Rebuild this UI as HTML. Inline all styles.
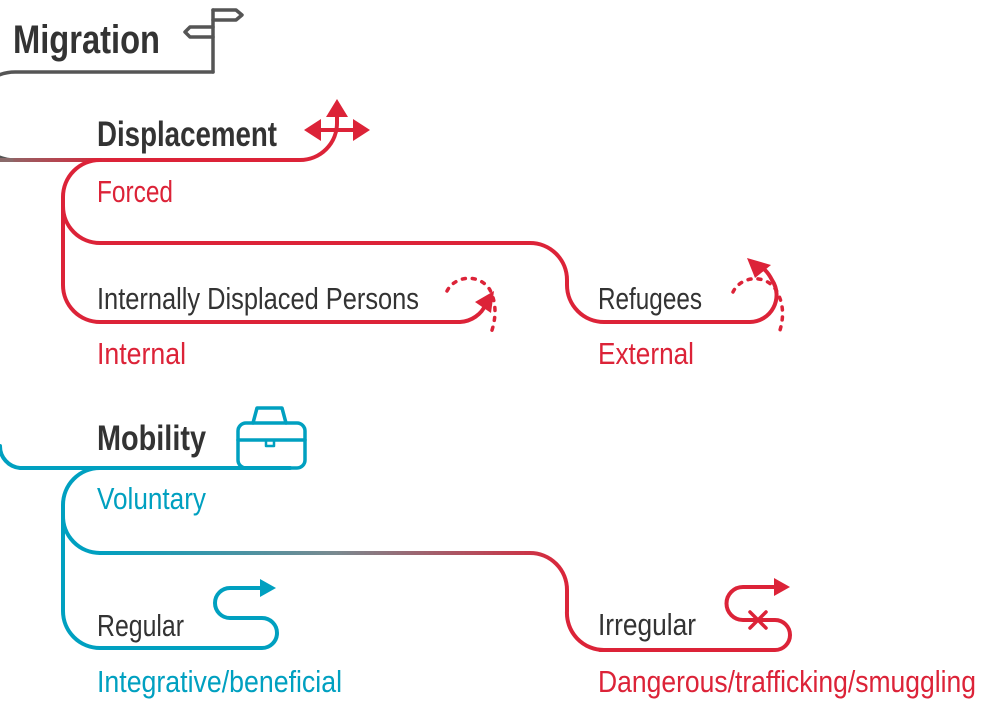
<!DOCTYPE html>
<html><head><meta charset="utf-8"><style>
html,body{margin:0;padding:0;background:#fff;}
svg{display:block;}
text{font-family:"Liberation Sans Narrow","Liberation Sans",sans-serif;}
.b{font-weight:bold;fill:#333;}
.d{fill:#333;}
.r{fill:#dc2338;}
.t{fill:#00a0c0;}
</style></head><body>
<svg width="1004" height="713" viewBox="0 0 1004 713" xmlns="http://www.w3.org/2000/svg">
<defs>
<linearGradient id="g1" gradientUnits="userSpaceOnUse" x1="0" y1="0" x2="110" y2="0">
<stop offset="0" stop-color="#8a6a6a"/><stop offset="1" stop-color="#dc2338"/></linearGradient>
<linearGradient id="g2" gradientUnits="userSpaceOnUse" x1="100" y1="0" x2="570" y2="0">
<stop offset="0" stop-color="#00a0c0"/><stop offset="0.5" stop-color="#7a8a90"/><stop offset="1" stop-color="#dc2338"/></linearGradient>
</defs>
<g fill="none" stroke-width="4" stroke-linecap="round" stroke-linejoin="round">
<g stroke="#555" stroke-width="3.5">
<path d="M213 72 V10"/>
<path d="M213 10 H236 L242 15 L236 20 H213"/>
<path d="M213 27 H190 L185 32 L190 37 H213"/>
<path d="M213 72 H15 A44 44 0 0 0 15 160"/>
</g>
<path d="M-5 160 H20" stroke="#8a6a6a"/>
<path d="M15 160 H300 A37 37 0 0 0 337 123 V112" stroke="url(#g1)"/>
<g stroke="#dc2338">
<path d="M316 130 H358"/>
<path d="M100 160 A37 37 0 0 0 63 197 V285 A37 37 0 0 0 100 322 H460 A30 30 0 0 0 486 304"/>
<path d="M63 206 A37 37 0 0 0 100 243 H530 A37 37 0 0 1 567 280 V285 A37 37 0 0 0 604 322 H750 A27 27 0 0 0 772 280 Q769 274 765 270"/>
<path d="M447 291 A24 22 0 0 1 490 290 Q500 310 490 336" stroke-dasharray="3 7" stroke-width="3.5"/>
<path d="M733 292 A24 22 0 0 1 776 290 Q788 310 778 336" stroke-dasharray="3 7" stroke-width="3.5"/>
</g>
<g fill="#dc2338" stroke="none">
<polygon points="337,99 326,117 348,117"/>
<polygon points="304,130 321,119 321,141"/>
<polygon points="370,130 353,119 353,141"/>
<polygon points="494,291 475,302 491,313"/>
<polygon points="747,258 755,278 771,265"/>
</g>
<g stroke="#00a0c0">
<path d="M0 446 A22 22 0 0 0 20 468 H290"/>
<path d="M100 468 A37 37 0 0 0 63 505 V611 A37 37 0 0 0 100 648 H262 A15 15 0 0 0 262 618 H230 A15 15 0 0 1 230 588 H260"/>
<path d="M63 515 A37 37 0 0 0 100 553"/>
<rect x="238" y="423" width="67" height="45" rx="8" stroke-width="3.5"/>
<path d="M238 440 H305" stroke-width="3.5"/>
<path d="M253 423 L257 408 H282 L286 423" stroke-width="3.5"/>
<rect x="266" y="440" width="8" height="6" stroke-width="2.5"/>
</g>
<polygon points="276,588 260,579 260,597" fill="#00a0c0"/>
<path d="M100 553 H530 A37 37 0 0 1 567 590 V611 A37 37 0 0 0 604 650" stroke="url(#g2)"/>
<g stroke="#dc2338">
<path d="M600 650 H775 A15 15 0 0 0 775 620 H743 A16 16 0 0 1 743 587 H775"/>
<path d="M750 612 L766 628 M766 612 L750 628" stroke-width="3.5"/>
</g>
<polygon points="790,587 774,578 774,596" fill="#dc2338"/>
</g>
<text x="13" y="53" class="b" font-size="40" textLength="147" lengthAdjust="spacingAndGlyphs">Migration</text>
<text x="97" y="146" class="b" font-size="35" textLength="180" lengthAdjust="spacingAndGlyphs">Displacement</text>
<text x="97" y="202" class="r" font-size="31" textLength="76" lengthAdjust="spacingAndGlyphs">Forced</text>
<text x="97" y="309" class="d" font-size="31" textLength="322" lengthAdjust="spacingAndGlyphs">Internally Displaced Persons</text>
<text x="97" y="364" class="r" font-size="31" textLength="89" lengthAdjust="spacingAndGlyphs">Internal</text>
<text x="598" y="309" class="d" font-size="31" textLength="104" lengthAdjust="spacingAndGlyphs">Refugees</text>
<text x="598" y="364" class="r" font-size="31" textLength="96" lengthAdjust="spacingAndGlyphs">External</text>
<text x="97" y="450" class="b" font-size="35" textLength="109" lengthAdjust="spacingAndGlyphs">Mobility</text>
<text x="97" y="509" class="t" font-size="31" textLength="109" lengthAdjust="spacingAndGlyphs">Voluntary</text>
<text x="97" y="636" class="d" font-size="31" textLength="87" lengthAdjust="spacingAndGlyphs">Regular</text>
<text x="97" y="692" class="t" font-size="31" textLength="245" lengthAdjust="spacingAndGlyphs">Integrative/beneficial</text>
<text x="598" y="635" class="d" font-size="31" textLength="98" lengthAdjust="spacingAndGlyphs">Irregular</text>
<text x="598" y="692" class="r" font-size="31" textLength="378" lengthAdjust="spacingAndGlyphs">Dangerous/trafficking/smuggling</text>
</svg>
</body></html>
